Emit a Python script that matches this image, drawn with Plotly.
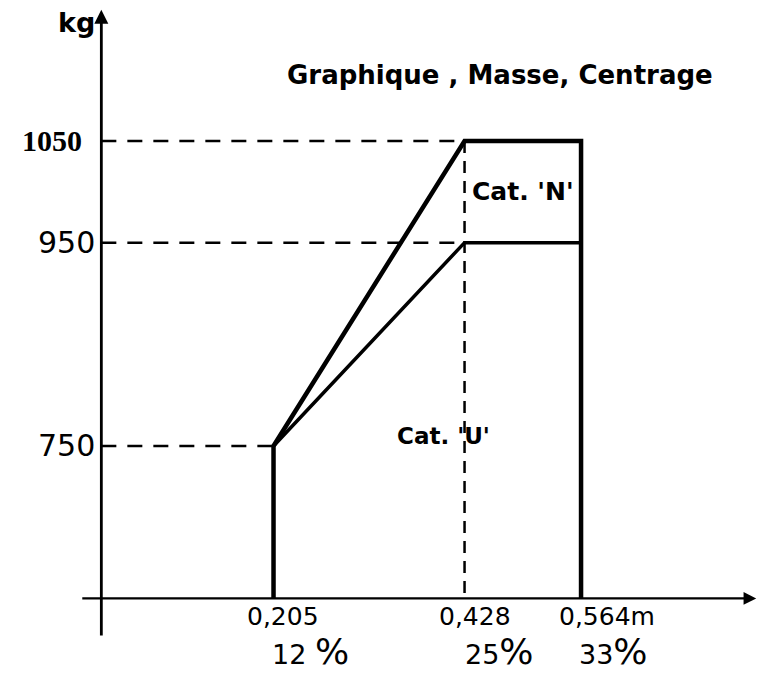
import plotly.graph_objects as go

# ---- data ----
arm_m = [0.205, 0.428, 0.564]
arm_labels = ["0,205", "0,428", "0,564m"]
arm_pct = ["12 ", "25", "33"]
mass_kg = [750, 950, 1050]
mass_labels = ["750", "950", "1050"]
y_origin = 600  # mass value where the horizontal axis crosses

cat_n_x = [0.205, 0.205, 0.428, 0.564, 0.564]
cat_n_y = [y_origin, 750, 1050, 1050, y_origin]
cat_u_x = [0.205, 0.428, 0.564]
cat_u_y = [750, 950, 950]

# ---- layout constants ----
X_RANGE = [-0.1143, 0.7694]
Y_RANGE = [509.9, 1188.7]
BLACK = "#000000"

fig = go.Figure()

# dashed reference lines
dash = dict(color=BLACK, width=2.5, dash="15px,11px")
for m, kg in [(0.205, 750), (0.428, 950), (0.428, 1050)]:
    fig.add_trace(go.Scatter(x=[0.004, m], y=[kg, kg], mode="lines", line=dash,
                             hoverinfo="skip", showlegend=False))
fig.add_trace(go.Scatter(x=[0.428, 0.428], y=[1050, y_origin], mode="lines",
                         line=dict(color=BLACK, width=2.5, dash="12px,8px"),
                         hoverinfo="skip", showlegend=False))

# envelopes
fig.add_trace(go.Scatter(x=cat_n_x, y=cat_n_y, mode="lines",
                         line=dict(color=BLACK, width=4.5), name="Cat. N",
                         showlegend=False))
fig.add_trace(go.Scatter(x=cat_u_x, y=cat_u_y, mode="lines",
                         line=dict(color=BLACK, width=3.5), name="Cat. U",
                         showlegend=False))

ann = []
# axes with arrows
ann.append(dict(x=0.004, y=1179, ax=0.004, ay=562, xref="x", yref="y", axref="x", ayref="y",
                showarrow=True, arrowhead=2, arrowsize=1.0, arrowwidth=2.8,
                arrowcolor=BLACK, text=""))
ann.append(dict(x=0.7685, y=y_origin, ax=-0.02, ay=y_origin, xref="x", yref="y",
                axref="x", ayref="y", showarrow=True, arrowhead=2, arrowsize=1.1,
                arrowwidth=2.3, arrowcolor=BLACK, text=""))

# y labels
ann.append(dict(x=0.004, y=1179, xref="x", yref="y", text="<b>kg</b>", showarrow=False,
                xanchor="right", yanchor="middle", xshift=-4, yshift=-13,
                font=dict(family="DejaVu Sans", size=27, color=BLACK)))
for kg, lab in zip(mass_kg, mass_labels):
    if lab == "1050":
        f = dict(family="Liberation Serif", size=30, color=BLACK)
        txt = "<b>" + lab + "</b>"
        sh = -17
    else:
        f = dict(family="DejaVu Sans", size=30, color=BLACK)
        txt = lab
        sh = -4
    ann.append(dict(x=0.004, y=kg, xref="x", yref="y", text=txt, showarrow=False,
                    xanchor="right", yanchor="middle", xshift=sh, font=f))

# x labels
xl_shift = [-29, -28, -24]
pct_shift = [-4, -2, -4]
for m, lab, pct, s1, s2 in zip(arm_m, arm_labels, arm_pct, xl_shift, pct_shift):
    ann.append(dict(x=m, y=y_origin, xref="x", yref="y", text=lab, showarrow=False,
                    xanchor="left", yanchor="top", xshift=s1, yshift=-2,
                    font=dict(family="DejaVu Sans", size=25, color=BLACK)))
    ann.append(dict(x=m, y=y_origin, xref="x", yref="y",
                    text=pct + '<span style="font-size:36px">%</span>',
                    showarrow=False, xanchor="left", yanchor="top", xshift=s2,
                    yshift=-31,
                    font=dict(family="DejaVu Sans", size=27, color=BLACK)))

# category labels
ann.append(dict(x=0.496, y=1000, xref="x", yref="y", text="<b>Cat. 'N'</b>",
                showarrow=False, font=dict(family="DejaVu Sans", size=25, color=BLACK)))
ann.append(dict(x=0.4034, y=760, xref="x", yref="y", text="<b>Cat. 'U'</b>",
                showarrow=False, font=dict(family="DejaVu Sans", size=23, color=BLACK)))

# title
ann.append(dict(x=0.661, y=0.891, xref="paper", yref="paper",
                xanchor="center", yanchor="middle",
                text="<b>Graphique , Masse, Centrage</b>", showarrow=False,
                font=dict(family="DejaVu Sans", size=26, color=BLACK)))

fig.update_layout(
    width=757, height=690,
    margin=dict(l=0, r=0, t=0, b=0),
    paper_bgcolor="white", plot_bgcolor="white",
    xaxis=dict(range=X_RANGE, visible=False, fixedrange=True),
    yaxis=dict(range=Y_RANGE, visible=False, fixedrange=True),
    annotations=ann,
    showlegend=False,
)

fig.write_html("out.html", config={"displayModeBar": False},
               post_script="document.body.style.margin='0px';")
